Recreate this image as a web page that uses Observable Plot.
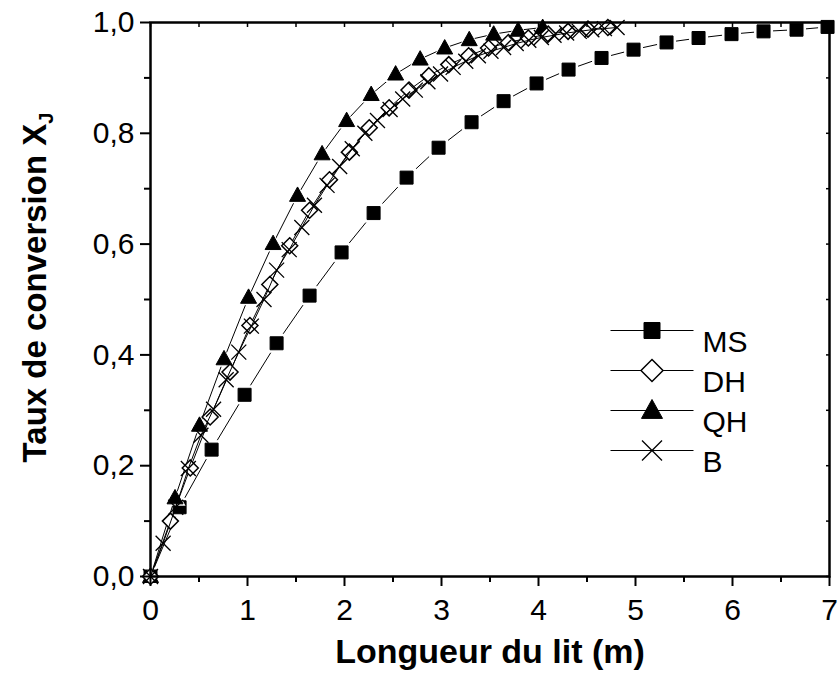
<!DOCTYPE html>
<html><head><meta charset="utf-8">
<script src="https://cdn.jsdelivr.net/npm/d3@7"></script>
<script src="https://cdn.jsdelivr.net/npm/@observablehq/plot@0.6"></script>
<style>body{margin:0;background:#fff} svg{display:block}</style>
</head><body><div id="chart"></div>
<script>
// ---- data ----
const seriesNames = ["MS", "DH", "QH", "B"];
const msX = [0, 0.30, 0.63, 0.97, 1.30, 1.64, 1.97, 2.30, 2.64, 2.97, 3.31, 3.64, 3.98, 4.31, 4.65, 4.98, 5.32, 5.65, 5.99, 6.32, 6.66, 6.98];
const msY = [0, 0.125, 0.229, 0.328, 0.421, 0.507, 0.585, 0.656, 0.720, 0.774, 0.820, 0.858, 0.890, 0.915, 0.936, 0.951, 0.964, 0.972, 0.979, 0.984, 0.987, 0.992];
const dhX = [0, 0.205, 0.41, 0.615, 0.82, 1.025, 1.23, 1.435, 1.64, 1.845, 2.05, 2.255, 2.46, 2.665, 2.87, 3.075, 3.28, 3.485, 3.69, 3.895, 4.10, 4.305, 4.51, 4.715];
const dhY = [0, 0.100, 0.196, 0.288, 0.369, 0.453, 0.527, 0.597, 0.661, 0.716, 0.766, 0.810, 0.846, 0.878, 0.904, 0.924, 0.940, 0.954, 0.964, 0.972, 0.979, 0.984, 0.988, 0.991];
const qhX = [0, 0.253, 0.505, 0.758, 1.011, 1.264, 1.516, 1.769, 2.022, 2.275, 2.527, 2.78, 3.033, 3.286, 3.538, 3.79, 4.043];
const qhY = [0, 0.142, 0.273, 0.393, 0.504, 0.601, 0.688, 0.763, 0.823, 0.870, 0.907, 0.934, 0.954, 0.969, 0.979, 0.986, 0.991];
const bX = [0, 0.13, 0.26, 0.39, 0.52, 0.65, 0.78, 0.91, 1.04, 1.17, 1.30, 1.43, 1.56, 1.69, 1.82, 1.95, 2.08, 2.21, 2.34, 2.47, 2.60, 2.73, 2.86, 2.99, 3.12, 3.25, 3.38, 3.51, 3.64, 3.77, 3.90, 4.03, 4.16, 4.29, 4.42, 4.55, 4.68, 4.81];
const bY = [0, 0.060, 0.125, 0.195, 0.255, 0.302, 0.355, 0.405, 0.452, 0.500, 0.553, 0.590, 0.630, 0.670, 0.706, 0.740, 0.772, 0.800, 0.823, 0.843, 0.862, 0.878, 0.893, 0.907, 0.919, 0.930, 0.940, 0.948, 0.955, 0.962, 0.968, 0.973, 0.977, 0.981, 0.984, 0.987, 0.989, 0.991];
const xTicks = [0, 1, 2, 3, 4, 5, 6, 7];
const xMinorTicks = [0.5, 1.5, 2.5, 3.5, 4.5, 5.5, 6.5];
const yTicks = [0, 0.2, 0.4, 0.6, 0.8, 1.0];
const yMinorTicks = [0.1, 0.3, 0.5, 0.7, 0.9];
const xTitle = "Longueur du lit (m)";
const yTitle = "Taux de conversion X";
const yTitleSub = "J";

// ---- symbols ----
function sym(fn) { return { draw(ctx, size) { const r = Math.sqrt(size / Math.PI); fn(ctx, r); } }; }
const square = sym((c, r) => { c.moveTo(-r, -r); c.lineTo(r, -r); c.lineTo(r, r); c.lineTo(-r, r); c.closePath(); });
const diamond = sym((c, r) => { c.moveTo(0, -r); c.lineTo(r, 0); c.lineTo(0, r); c.lineTo(-r, 0); c.closePath(); });
const triangle = sym((c, r) => { c.moveTo(0, -1.05 * r); c.lineTo(r, 0.75 * r); c.lineTo(-r, 0.75 * r); c.closePath(); });
const cross = sym((c, r) => { c.moveTo(-r, -r); c.lineTo(r, r); c.moveTo(r, -r); c.lineTo(-r, r); });
const hline = sym((c, r) => { c.moveTo(-r, 0); c.lineTo(r, 0); });

const rows = (name, xs, ys) => xs.map((x, i) => ({ series: name, x, y: ys[i] }));
const data = {
  MS: rows("MS", msX, msY),
  DH: rows("DH", dhX, dhY),
  QH: rows("QH", qhX, qhY),
  B: rows("B", bX, bY)
};
const styles = {
  MS: { symbol: square, r: 6.5, fill: "black", stroke: "black", strokeWidth: 1, lr: 8, halo: 3 },
  DH: { symbol: diamond, r: 8, fill: "white", stroke: "black", strokeWidth: 1.5, lr: 11, halo: 0 },
  QH: { symbol: triangle, r: 8, fill: "black", stroke: "black", strokeWidth: 1, lr: 10.5, halo: 2.5 },
  B: { symbol: cross, r: 7.5, fill: "none", stroke: "black", strokeWidth: 1.3, lr: 10, halo: 0 }
};
const drawOrder = ["MS", "QH", "DH", "B"];

const locale = d3.formatLocale({ decimal: ",", thousands: ".", grouping: [3], currency: ["", ""] });
const fmt = locale.format(".1f");
const blank = () => "";

const marks = [];
for (const s of drawOrder) {
  const st = styles[s];
  marks.push(Plot.line(data[s], { x: "x", y: "y", stroke: "black", strokeWidth: 1 }));
  if (st.halo) {
    // white gap around markers, as in the original (line stops short of each symbol)
    marks.push(Plot.dot(data[s], { x: "x", y: "y", symbol: st.symbol, r: st.r + st.halo, fill: "white", stroke: "none" }));
  }
  marks.push(Plot.dot(data[s], { x: "x", y: "y", symbol: st.symbol, r: st.r, fill: st.fill, stroke: st.stroke, strokeWidth: st.strokeWidth }));
}
seriesNames.forEach((s, i) => {
  const st = styles[s];
  const dy = 308 + 40 * i;
  marks.push(Plot.dot([s], { frameAnchor: "top-left", dx: 501.5, dy, symbol: hline, r: 41.5, fill: "none", stroke: "black", strokeWidth: 1 }));
  marks.push(Plot.dot([s], { frameAnchor: "top-left", dx: 501.5, dy, symbol: st.symbol, r: st.lr, fill: st.fill, stroke: st.stroke, strokeWidth: st.strokeWidth }));
  marks.push(Plot.text([s], { frameAnchor: "top-left", dx: 552, dy, textAnchor: "start", fontSize: 30 }));
});

const chart = Plot.plot({
  width: 838, height: 686,
  marginLeft: 150, marginRight: 9, marginTop: 22, marginBottom: 110,
  style: { fontFamily: "'Liberation Sans', Arial, sans-serif", color: "black", background: "white" },
  x: { domain: [0, 7] },
  y: { domain: [0, 1] },
  marks: [
    ...marks,
    Plot.axisX(xTicks, { tickSize: 10, tickPadding: 12, fontSize: 30, strokeWidth: 2, label: null }),
    Plot.axisX(xMinorTicks, { tickSize: 6, strokeWidth: 2, tickFormat: blank, label: null }),
    Plot.axisX([...xTicks, ...xMinorTicks], { anchor: "top", tickSize: -4, strokeWidth: 1.5, tickFormat: blank, label: null }),
    Plot.axisY(yTicks, { tickSize: 10, tickPadding: 6, fontSize: 30, strokeWidth: 2, tickFormat: fmt, label: null }),
    Plot.axisY(yMinorTicks, { tickSize: 6, strokeWidth: 2, tickFormat: blank, label: null }),
    Plot.axisY([...yTicks, ...yMinorTicks], { anchor: "right", tickSize: -4, strokeWidth: 1.5, tickFormat: blank, label: null }),
    Plot.frame({ stroke: "black", strokeWidth: 2.5 }),
    Plot.text([xTitle], { frameAnchor: "bottom", dy: 86, fontSize: 34, fontWeight: "bold", textAnchor: "middle" }),
    Plot.text([yTitle], { frameAnchor: "left", dx: -115, dy: -12, rotate: -90, fontSize: 33, fontWeight: "bold", textAnchor: "middle" })
  ]
});
document.getElementById("chart").append(chart);

// subscript J on the y title
d3.select(chart).selectAll("text").filter(function () { return this.textContent === yTitle; })
  .append("tspan").attr("dy", "0.35em").attr("font-size", "20px").text(yTitleSub);
</script>
</body></html>
